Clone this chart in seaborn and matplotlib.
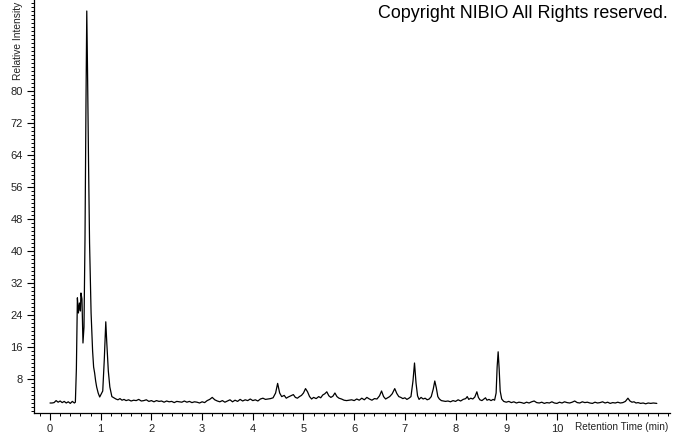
import numpy as np
import pandas as pd
import matplotlib
matplotlib.use("Agg")
import matplotlib.pyplot as plt
import seaborn as sns
from matplotlib.ticker import MultipleLocator, FixedLocator

# ---- data ----
rt_front = [0.00, 0.04, 0.08, 0.12, 0.16, 0.20, 0.24, 0.28, 0.32, 0.36, 0.40, 0.44, 0.48, 0.50,
            0.52, 0.54, 0.56, 0.58, 0.60, 0.61, 0.63, 0.65, 0.67, 0.69, 0.71, 0.725, 0.74, 0.76,
            0.78, 0.81, 0.84, 0.86, 0.88, 0.90, 0.92, 0.95, 0.98, 1.00, 1.04, 1.07, 1.10, 1.12,
            1.15, 1.18, 1.22, 1.26, 1.30]
int_front = [2.0, 2.0, 2.1, 2.6, 2.2, 2.5, 2.1, 2.4, 2.0, 2.3, 1.9, 2.4, 2.0, 2.2,
             10.5, 28.3, 24.5, 27.0, 25.0, 29.5, 28.0, 17.0, 21.0, 43.0, 78.0, 100.0, 85.0, 62.0,
             42.0, 24.5, 15.0, 11.0, 9.5, 7.5, 6.0, 4.5, 3.5, 4.0, 5.0, 12.7, 22.3, 17.0,
             10.0, 6.0, 3.6, 3.3, 3.0]

rt_mid = [1.34, 1.38, 1.42, 1.46, 1.50, 1.55, 1.60, 1.65, 1.70, 1.75, 1.80, 1.85, 1.90, 1.95,
          2.00, 2.05, 2.10, 2.15, 2.20, 2.25, 2.30, 2.35, 2.40, 2.45, 2.50, 2.55, 2.60, 2.65,
          2.70, 2.75, 2.80, 2.85, 2.90, 2.95, 3.00, 3.05, 3.10, 3.15, 3.20, 3.25, 3.30, 3.35,
          3.40, 3.45, 3.50, 3.55, 3.60, 3.65, 3.70, 3.75, 3.80, 3.85, 3.90, 3.95, 4.00, 4.05,
          4.10, 4.15, 4.20, 4.25, 4.30, 4.35, 4.40, 4.45, 4.49, 4.53, 4.57, 4.62, 4.66, 4.70,
          4.75, 4.80, 4.84, 4.88, 4.92, 4.96, 5.00, 5.04, 5.08, 5.12, 5.16, 5.20, 5.25, 5.30,
          5.34, 5.38, 5.42, 5.46, 5.50, 5.54, 5.58, 5.62, 5.66, 5.70, 5.75, 5.80, 5.85, 5.90,
          5.95]
int_mid = [2.8, 3.1, 2.7, 2.9, 2.6, 2.8, 2.5, 2.7, 2.6, 2.9, 2.5, 2.6, 2.8, 2.4,
           2.6, 2.3, 2.6, 2.4, 2.5, 2.2, 2.5, 2.3, 2.4, 2.1, 2.4, 2.3, 2.2, 2.5,
           2.2, 2.4, 2.1, 2.3, 2.2, 2.0, 2.3, 2.1, 2.6, 2.9, 3.4, 2.8, 2.5, 2.3,
           2.6, 2.2, 2.5, 2.8, 2.3, 2.7, 2.4, 2.9, 2.5, 2.8, 2.6, 3.0, 2.6, 2.8,
           2.5, 3.0, 3.2, 2.9, 3.0, 3.1, 3.3, 4.5, 6.9, 4.5, 3.6, 3.9, 3.2, 3.5,
           3.8, 4.1, 3.4, 3.2, 3.6, 3.9, 4.5, 5.6, 4.8, 3.6, 3.0, 3.4, 3.1, 3.6,
           3.3, 4.0, 4.3, 4.8, 3.8, 3.4, 3.7, 4.5, 3.6, 3.2, 3.0, 2.7, 2.6, 2.7,
           2.8]

rt_late = [6.00, 6.05, 6.10, 6.15, 6.20, 6.25, 6.30, 6.35, 6.40, 6.45, 6.50, 6.54, 6.58, 6.62,
           6.66, 6.70, 6.75, 6.80, 6.84, 6.88, 6.92, 6.96, 7.00, 7.04, 7.08, 7.12, 7.16, 7.19,
           7.22, 7.25, 7.28, 7.32, 7.36, 7.40, 7.44, 7.48, 7.52, 7.56, 7.59, 7.62, 7.65, 7.68,
           7.72, 7.76, 7.80, 7.85, 7.90, 7.95, 8.00, 8.05, 8.10, 8.15, 8.20, 8.23, 8.26, 8.30,
           8.34, 8.38, 8.42, 8.45, 8.48, 8.52, 8.56, 8.59, 8.62, 8.66, 8.70, 8.74, 8.77, 8.80,
           8.82, 8.84, 8.86, 8.88, 8.91, 8.95, 9.00, 9.05, 9.10, 9.15, 9.20, 9.25, 9.30, 9.35,
           9.40, 9.45, 9.50, 9.55, 9.60, 9.65, 9.70, 9.75, 9.80, 9.85, 9.90, 9.95, 10.00, 10.05,
           10.10, 10.15, 10.20, 10.25, 10.30, 10.35, 10.40, 10.45, 10.50, 10.55, 10.60, 10.65,
           10.70, 10.75, 10.80, 10.85, 10.90, 10.95, 11.00, 11.05, 11.10, 11.15, 11.20, 11.25,
           11.30, 11.35, 11.40, 11.44, 11.48, 11.52, 11.56, 11.60, 11.65, 11.70, 11.75, 11.80,
           11.85, 11.90, 11.97]
int_late = [2.6, 3.0, 2.7, 3.2, 2.8, 3.4, 3.0, 2.7, 3.1, 3.0, 3.8, 5.0, 3.6, 3.0,
            3.3, 3.6, 4.3, 5.6, 4.4, 3.6, 3.4, 3.1, 3.3, 2.9, 3.2, 3.6, 7.5, 12.0,
            7.0, 3.8, 2.9, 3.4, 3.0, 3.2, 2.8, 3.0, 3.6, 5.5, 7.5, 5.8, 3.6, 3.0,
            2.6, 2.5, 2.4, 2.5, 2.3, 2.6, 2.4, 2.8, 2.5, 2.9, 3.1, 3.6, 2.9, 3.2,
            3.0, 3.5, 4.8, 3.4, 2.8, 2.6, 3.0, 3.3, 2.7, 2.9, 2.6, 2.9, 2.7, 4.5,
            11.0, 14.8, 10.5, 5.0, 3.0, 2.4, 2.2, 2.4, 2.1, 2.3, 2.0, 2.2, 2.1, 1.9,
            2.2, 2.0, 2.3, 2.5, 2.1, 2.0, 2.2, 1.9, 2.1, 2.0, 2.3, 2.0, 1.9, 2.2,
            2.0, 2.3, 2.1, 2.0, 2.2, 2.5, 2.1, 2.0, 2.3, 2.1, 2.2, 2.0,
            1.9, 2.2, 2.0, 2.1, 2.3, 2.0, 2.2, 1.9, 2.1, 2.0, 2.2, 2.0,
            2.1, 2.4, 3.2, 2.5, 2.2, 2.3, 2.0, 2.1, 1.9, 2.0, 1.8, 2.0,
            1.9, 2.0, 1.9]

x_tick_values = [0, 1, 2, 3, 4, 5, 6, 7, 8, 9, 10]
y_tick_values = [8, 16, 24, 32, 40, 48, 56, 64, 72, 80]

df = pd.DataFrame({
    "rt": rt_front + rt_mid + rt_late,
    "intensity": int_front + int_mid + int_late,
})

# ---- figure ----
sns.set_theme(style="ticks")
plt.rcParams["font.family"] = ["Liberation Sans", "DejaVu Sans"]

W, H = 674, 434
fig = plt.figure(figsize=(W / 100, H / 100), dpi=100)
ax = fig.add_axes([34 / W, 21 / H, (670 - 34) / W, (H - 21) / H])

sns.lineplot(data=df, x="rt", y="intensity", ax=ax, color="black",
             linewidth=0.9, sort=False, estimator=None)

ax.set_xlim(-0.316, 12.23)
ax.set_ylim(-0.5, 102.75)
for s in ["top", "right"]:
    ax.spines[s].set_visible(False)
for s in ["left", "bottom"]:
    ax.spines[s].set_color("black")
    ax.spines[s].set_linewidth(0.9)

ax.xaxis.set_major_locator(FixedLocator(x_tick_values))
ax.xaxis.set_minor_locator(MultipleLocator(0.2))
ax.yaxis.set_major_locator(FixedLocator(y_tick_values))
ax.yaxis.set_minor_locator(MultipleLocator(1))
ax.set_xticklabels([str(v) for v in x_tick_values])
ax.set_yticklabels([str(v) for v in y_tick_values])
ax.tick_params(axis="both", which="major", length=5, width=0.8, color="black",
               labelsize=8, labelcolor="#222222", pad=3)
ax.tick_params(axis="both", which="minor", length=2.5, width=0.7, color="black")
ax.set_xlabel("")
ax.set_ylabel("")

fig.text(18 / W, (H - 80) / H, "Relative Intensity", rotation=90, ha="center",
         va="bottom", fontsize=7.4, color="#222222")
fig.text(668 / W, (H - 427) / H, "Retention Time (min)", ha="right", va="center",
         fontsize=7.2, color="#222222")
fig.text(668 / W, (H - 14) / H, "Copyright NIBIO All Rights reserved.", ha="right",
         va="center", fontsize=12.9, color="black")

fig.savefig("out.png", dpi=100)
